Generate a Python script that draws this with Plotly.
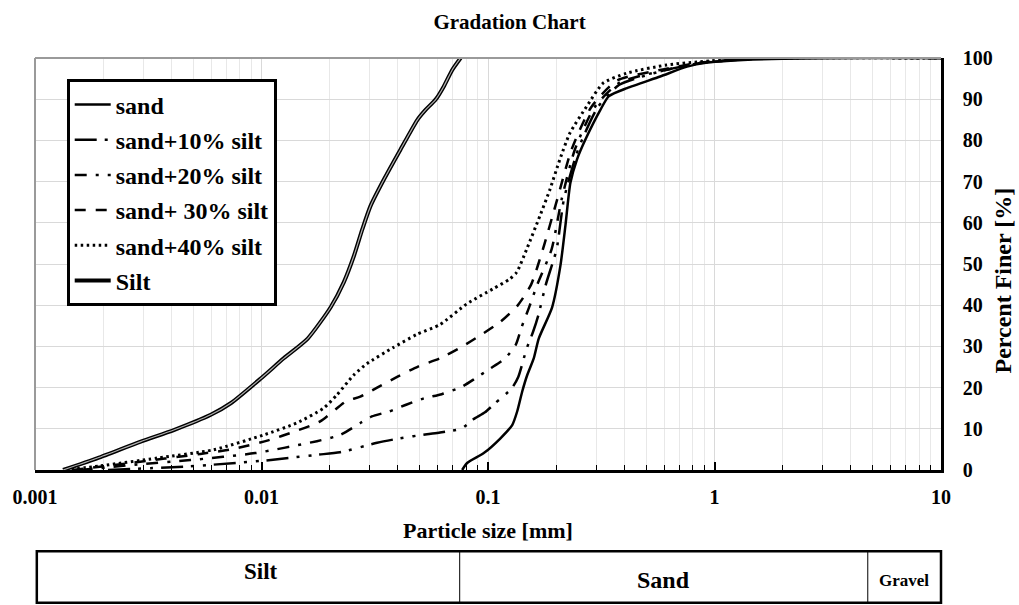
import numpy as np
import plotly.graph_objects as go

FONT = "Liberation Serif, Times New Roman, serif"

# ---- data (particle size in mm, percent finer) ----
sand_x = [0.0769, 0.0809, 0.0958, 0.1135, 0.1279, 0.1345, 0.1415, 0.1489, 0.1592, 0.1675,
          0.1919, 0.2088, 0.2197, 0.2311, 0.2472, 0.2692, 0.3134, 0.341, 0.411, 0.576,
          0.756, 0.93, 1.13, 2.0, 4.75, 10]
sand_y = [0, 1.7, 4.1, 7.7, 10.9, 14.2, 19.0, 23.0, 27.1, 31.9,
          39.5, 49.6, 59.3, 69.7, 75.4, 80.2, 87.4, 90.7, 92.7, 95.5,
          97.9, 98.9, 99.3, 99.8, 100, 100]

s10_x = [0.0021, 0.00486, 0.00614, 0.0104, 0.0176, 0.0222, 0.0324, 0.0409, 0.0538, 0.0614,
         0.0766, 0.0861, 0.097, 0.1074, 0.1272, 0.136, 0.1482, 0.158, 0.1667, 0.18,
         0.2009, 0.2163, 0.25, 0.305, 0.38, 0.6, 0.85, 1.2, 2.0, 10]
s10_y = [0, 0.9, 1.3, 2.3, 3.7, 4.3, 6.6, 7.7, 8.7, 9.1,
         10.1, 12.3, 14.0, 16.2, 19.8, 22.6, 29.5, 33.5, 37.5, 45,
         53.6, 65.7, 77.8, 88, 93.5, 97, 98.7, 99.5, 100, 100]

s20_x = [0.00159, 0.00292, 0.00485, 0.00938, 0.01756, 0.02225, 0.0273, 0.0307, 0.0366, 0.0438,
         0.0522, 0.0625, 0.0766, 0.0877, 0.102, 0.1189, 0.1326, 0.1408, 0.1517, 0.165,
         0.191, 0.2114, 0.2419, 0.295, 0.38, 0.6, 0.85, 1.2, 2.0, 10]
s20_y = [0, 1.4, 2.4, 4.1, 7.0, 8.5, 11.4, 13.0, 14.2, 15.9,
         17.4, 18.4, 20.2, 22.2, 24.6, 27.1, 30.4, 34.7, 39.4, 45,
         53.6, 65.7, 77.8, 88, 94, 97, 98.7, 99.5, 100, 100]

s30_x = [0.00146, 0.00264, 0.00537, 0.0075, 0.0107, 0.0141, 0.01816, 0.02364, 0.0273, 0.0324,
         0.0397, 0.0491, 0.0614, 0.0766, 0.0913, 0.113, 0.135, 0.155, 0.1748, 0.2021,
         0.2339, 0.285, 0.37, 0.6, 0.85, 1.2, 2.0, 10]
s30_y = [0, 1.7, 3.9, 5.1, 7.2, 9.4, 11.8, 16.7, 17.8, 20.0,
         22.6, 25.1, 27.1, 29.9, 32.5, 35.9, 39.9, 45, 53.6, 65.7,
         77.8, 88, 94.5, 97.3, 98.8, 99.5, 100, 100]

s40_x = [0.00136, 0.00194, 0.00346, 0.00614, 0.0102, 0.0143, 0.01878, 0.0215, 0.0255, 0.0292,
         0.0381, 0.0485, 0.0614, 0.0805, 0.1055, 0.125, 0.1339, 0.1482, 0.1696, 0.1877,
         0.2077, 0.23, 0.2724, 0.3224, 0.409, 0.614, 0.861, 1.4, 10]
s40_y = [0, 1.0, 2.9, 4.9, 8.5, 11.4, 15.0, 18.2, 23.0, 25.8,
         29.7, 32.9, 35.3, 40.3, 44.0, 46.4, 48.0, 53.6, 61.7, 68.1,
         75.4, 81.8, 88.2, 93.9, 96.3, 98.3, 99.1, 99.9, 100]

silt_x = [0.00133, 0.00189, 0.00293, 0.0041, 0.00597, 0.00731, 0.00992, 0.01253, 0.016, 0.0202,
          0.0231, 0.0256, 0.0279, 0.0303, 0.0347, 0.0411, 0.0488, 0.053, 0.0587, 0.0638,
          0.0695, 0.0757]
silt_y = [0, 2.9, 6.9, 9.7, 13.4, 16.2, 22.2, 27.1, 31.9, 39.5,
          45.6, 52.0, 58.5, 64.1, 70.5, 77.8, 85.0, 87.4, 89.9, 93.1,
          97.1, 100]

x_tickvals = [0.001, 0.01, 0.1, 1, 10]
x_ticktext = ["0.001", "0.01", "0.1", "1", "10"]
y_tickvals = list(range(0, 101, 10))

# soil classification bands (mm)
bands = ["Silt", "Sand", "Gravel"]
band_edges = [0.001, 0.075, 4.75, 10]

# ---- figure ----
fig = go.Figure()

styles = [
    ("sand", sand_x, sand_y, "solid", 2.5),
    ("sand+10% silt", s10_x, s10_y, "22px,8px,3px,9px,3px,8px", 2.5),
    ("sand+20% silt", s20_x, s20_y, "12px,9px,3px,9px", 2.5),
    ("sand+ 30% silt", s30_x, s30_y, "11px,10px", 2.5),
    ("sand+40% silt", s40_x, s40_y, "2.5px,3.5px", 3),
]
for i, (name, xs, ys, dash, w) in enumerate(styles):
    fig.add_trace(go.Scatter(
        x=xs, y=ys, mode="lines", name=name, legendgroup=f"g{i}",
        line=dict(color="black", width=w, dash=dash, shape="spline", smoothing=0.6),
    ))

fig.add_trace(go.Scatter(
    x=silt_x, y=silt_y, mode="lines", name="Silt", legendgroup="g5",
    line=dict(color="black", width=4, shape="spline", smoothing=0.6),
))
fig.add_trace(go.Scatter(
    x=silt_x, y=silt_y, mode="lines", name="Silt inner", showlegend=False, legendgroup="g5",
    line=dict(color="#b0b0b0", width=1.2, shape="spline", smoothing=0.6), hoverinfo="skip",
))

tickfont = dict(family=FONT, size=20, color="black", weight="bold")
minor_x = [k * 10.0 ** e for e in range(-3, 1) for k in range(2, 10)]

fig.update_layout(
    width=1019, height=605,
    margin=dict(l=35, r=78, t=58, b=135),
    paper_bgcolor="white", plot_bgcolor="white",
    title=dict(text="Gradation Chart", x=0.5, xanchor="center", y=0.965, yanchor="middle",
               font=dict(family=FONT, size=21, color="black", weight="bold")),
    showlegend=True,
    legend=dict(x=0.035, y=0.948, xanchor="left", yanchor="top",
                bgcolor="white", bordercolor="black", borderwidth=3,
                font=dict(family=FONT, size=24, color="black", weight="bold"),
                tracegroupgap=1, itemwidth=36),
    xaxis=dict(type="log", range=[-3, 1], tickvals=x_tickvals, ticktext=x_ticktext,
               ticks="inside", ticklen=8, tickwidth=1.5, tickcolor="black",
               showline=True, linecolor="black", linewidth=2.5,
               showgrid=True, gridcolor="#d9d9d9", gridwidth=1, zeroline=False,
               minor=dict(tickvals=minor_x, ticks="inside", ticklen=5, tickwidth=1,
                          tickcolor="black", showgrid=True, gridcolor="#e8e8e8", gridwidth=1),
               tickfont=tickfont, ticklabelstandoff=7, automargin=False,
               title=dict(text="Particle size [mm]", standoff=16,
                          font=dict(family=FONT, size=22, color="black", weight="bold"))),
    yaxis=dict(range=[0, 100], tickvals=y_tickvals, side="right",
               showline=True, linecolor="black", linewidth=2.5, ticks="",
               showgrid=True, gridcolor="#d9d9d9", gridwidth=1, zeroline=False,
               tickfont=tickfont, ticklabelstandoff=15, automargin=False),
)

# y-axis title (placed like the original, slightly below centre)
fig.add_annotation(text="Percent Finer [%]", xref="paper", yref="paper",
                   x=1.0, xshift=62, y=0.46, textangle=-90, showarrow=False,
                   xanchor="center", yanchor="middle",
                   font=dict(family=FONT, size=24, color="black", weight="bold"))

# plot frame (grey on top / left)
fig.add_shape(type="line", xref="paper", yref="paper", x0=0, x1=0, y0=0, y1=1,
              line=dict(color="#9a9a9a", width=2))
fig.add_shape(type="line", xref="paper", yref="paper", x0=0, x1=1, y0=1, y1=1,
              line=dict(color="#9a9a9a", width=2))

# classification table below the axis
lo, hi = -3, 1
def frac(v):
    return (np.log10(v) - lo) / (hi - lo)

ty0, ty1 = -0.322, -0.197
fig.add_shape(type="rect", xref="paper", yref="paper", x0=0.002, x1=1, y0=ty0, y1=ty1,
              line=dict(color="black", width=2.5), fillcolor="white")
for e in band_edges[1:-1]:
    fig.add_shape(type="line", xref="paper", yref="paper", x0=frac(e), x1=frac(e),
                  y0=ty0, y1=ty1, line=dict(color="black", width=1))
band_y = [-0.247, -0.267, -0.267]
band_size = [23, 24, 17]
band_dx = [0.015, 0, 0]
for name, a, b, yy, sz, dx in zip(bands, band_edges[:-1], band_edges[1:], band_y, band_size, band_dx):
    fig.add_annotation(text=name, xref="paper", yref="paper",
                       x=(frac(a) + frac(b)) / 2 + dx, y=yy, yanchor="middle", xanchor="center",
                       showarrow=False,
                       font=dict(family=FONT, size=sz, color="black", weight="bold"))

fig.write_html("out.html")
